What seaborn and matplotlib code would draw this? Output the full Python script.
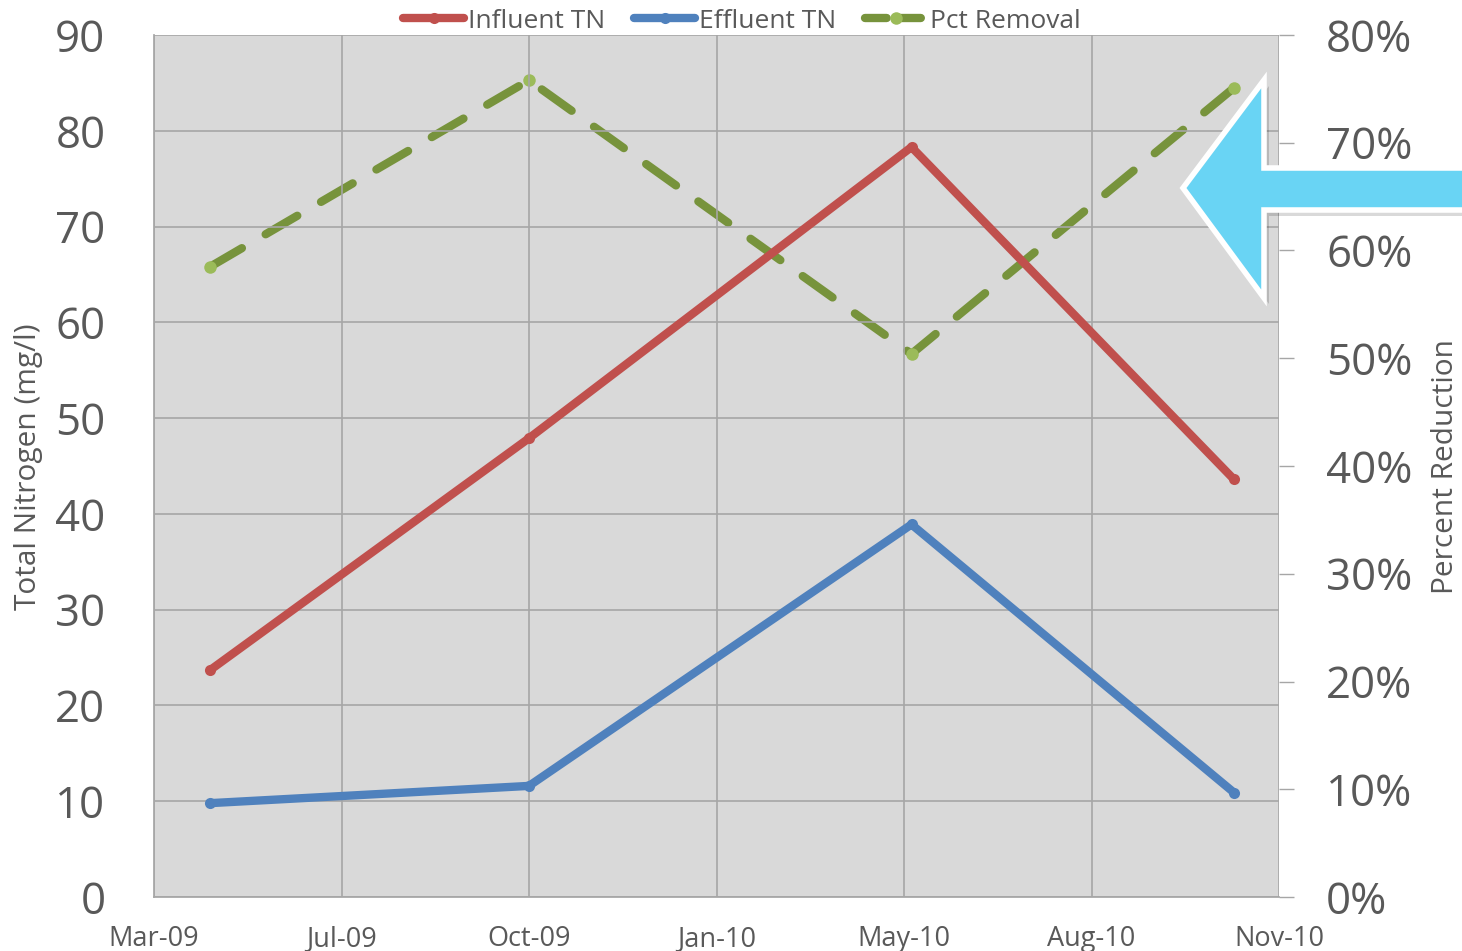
import matplotlib
matplotlib.use("Agg")
import matplotlib.pyplot as plt
import matplotlib.dates as mdates
from matplotlib.lines import Line2D
from matplotlib.patches import Polygon
from matplotlib.ticker import PercentFormatter, MultipleLocator
import pandas as pd
import seaborn as sns

# sample dates and readings
dates = ["2009-04-27", "2009-10-14", "2010-05-06", "2010-10-25"]
influent_tn = [23.7, 47.9, 78.3, 43.6]
effluent_tn = [9.8, 11.6, 38.9, 10.9]
pct_removal = [0.585, 0.758, 0.504, 0.751]

sns.set_theme(style="whitegrid", rc={"axes.facecolor": "#D9D9D9",
                                     "grid.color": "#A6A6A6",
                                     "axes.edgecolor": "#A6A6A6"})
plt.rcParams['font.family'] = ['Open Sans', 'DejaVu Sans']

df = pd.DataFrame({"date": pd.to_datetime(dates),
                   "Influent TN": influent_tn,
                   "Effluent TN": effluent_tn,
                   "Pct Removal": pct_removal})

W, H = 1462, 951
fig = plt.figure(figsize=(W / 100, H / 100), dpi=100)
ax = fig.add_axes([154 / W, 1 - 897 / H, (1279 - 154) / W, (897 - 35) / H])
ax2 = ax.twinx()

red, blue, green, lgreen = "#C0504D", "#4F81BD", "#77933C", "#9BBB59"
lw = 6.0

sns.lineplot(data=df, x="date", y="Influent TN", ax=ax, color=red, lw=lw,
             marker="o", markersize=8, markeredgewidth=0, label="Influent TN",
             solid_capstyle="round", legend=False)
sns.lineplot(data=df, x="date", y="Effluent TN", ax=ax, color=blue, lw=lw,
             marker="o", markersize=8, markeredgewidth=0, label="Effluent TN",
             solid_capstyle="round", legend=False)
sns.lineplot(data=df, x="date", y="Pct Removal", ax=ax2, color=green, lw=lw,
             marker="o", markersize=9, markeredgewidth=0, markerfacecolor=lgreen,
             label="Pct Removal", dash_capstyle="round", legend=False)
ax2.lines[0].set_dashes([4.4, 3.3])
ax.set_zorder(ax2.get_zorder() + 1)
ax.patch.set_visible(False)
ax2.patch.set_visible(True)
ax2.patch.set_facecolor("#D9D9D9")

# axis range like excel: serial 39900 .. 40500, step 100 days
start = pd.Timestamp("2009-03-28")
ticks = [start + pd.Timedelta(days=100 * i) for i in range(7)]
ax.set_xlim(ticks[0], ticks[-1])
ax.set_xticks(ticks)
ax.xaxis.set_major_formatter(mdates.DateFormatter("%b-%y"))
ax.set_ylim(0, 90)
ax.yaxis.set_major_locator(MultipleLocator(10))
ax2.set_ylim(0, 0.8)
ax2.yaxis.set_major_locator(MultipleLocator(0.1))
ax2.yaxis.set_major_formatter(PercentFormatter(1.0, decimals=0))
ax2.grid(False)
ax.grid(True, color="#A6A6A6", lw=1.2)

txt = "#595959"
ax.tick_params(axis="y", labelsize=31.5, colors=txt, length=0, pad=35)
ax.tick_params(axis="x", labelsize=19.5, colors=txt, length=0, pad=20)
ax2.tick_params(axis="y", labelsize=31.5, colors=txt, length=11, width=1,
                direction="out", pad=23)
ax2.tick_params(axis="y", color="#A6A6A6")
ax.set_xlabel("")
ax.set_ylabel("Total Nitrogen (mg/l)", fontsize=21.5, color=txt)
ax2.set_ylabel("Percent Reduction", fontsize=21.5, color=txt)
ax.yaxis.set_label_coords(-0.099, 0.499)
ax2.yaxis.set_label_coords(1.135, 0.5)
for a in (ax, ax2):
    for s in a.spines.values():
        s.set_visible(False)
ax2.spines["left"].set_visible(True)
ax2.spines["bottom"].set_visible(True)
ax2.spines["left"].set_color("#A6A6A6")
ax2.spines["bottom"].set_color("#A6A6A6")

pct_handle = Line2D([], [], color=green, lw=lw, dash_capstyle="round",
                    dashes=(2.6, 1.5), marker="o", markersize=9,
                    markeredgewidth=0, markerfacecolor=lgreen)
handles = ax.lines[:2] + [pct_handle]
fig.legend(handles, ["Influent TN", "Effluent TN", "Pct Removal"],
           loc="upper center", bbox_to_anchor=(742 / W, 1.016), ncol=3,
           frameon=False, fontsize=19, handlelength=2.3, handletextpad=0.15,
           columnspacing=1.1, labelcolor=txt)

# callout arrow
def px(pts):
    return [(x / W, 1 - y / H) for x, y in pts]

arrow = [(1183, 188), (1264, 80), (1264, 168), (1470, 168),
         (1470, 210), (1264, 210), (1264, 298)]
shadow = [(x + 5, y + 6) for x, y in arrow]
fig.patches.append(Polygon(px(shadow), closed=True, transform=fig.transFigure,
                           facecolor="#000000", alpha=0.15, edgecolor="none"))
fig.patches.append(Polygon(px(arrow), closed=True, transform=fig.transFigure,
                           facecolor="#69D4F4", edgecolor="white", lw=4,
                           joinstyle="miter"))

fig.savefig("out.png", dpi=100)
